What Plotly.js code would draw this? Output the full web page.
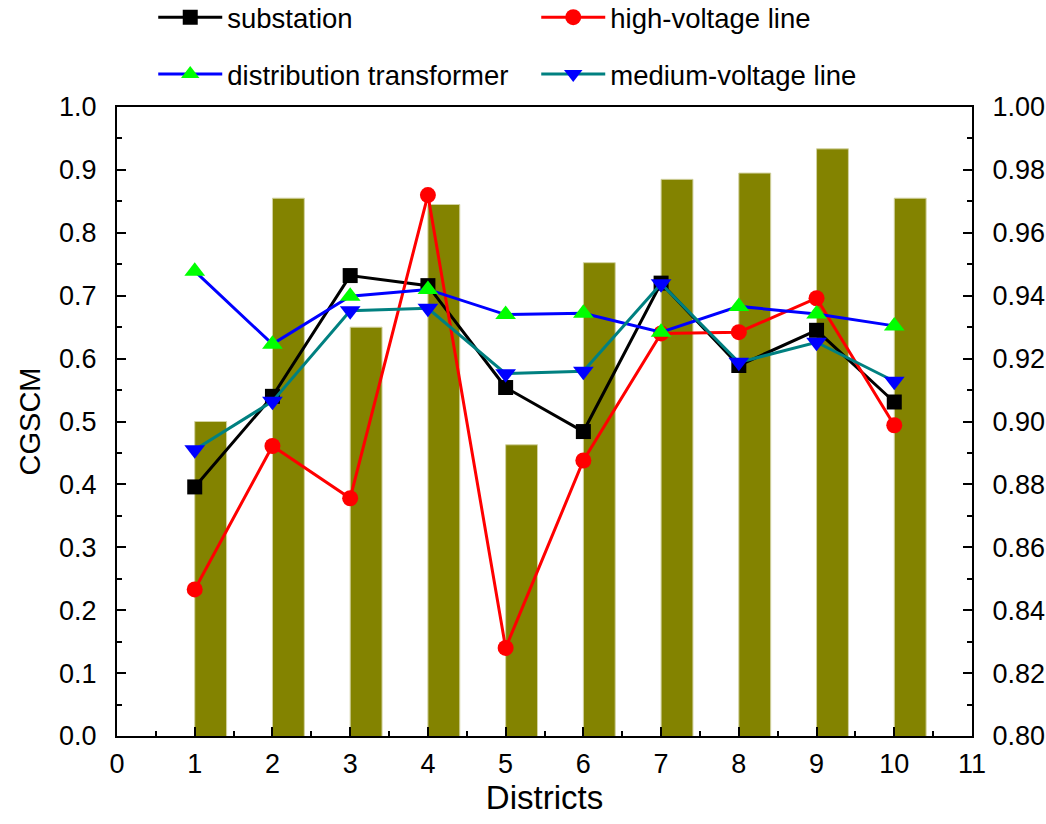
<!DOCTYPE html>
<html>
<head>
<meta charset="utf-8">
<script src="https://cdn.plot.ly/plotly-3.0.1.min.js"></script>
<style>html,body{margin:0;padding:0;background:#fff;}#chart{width:1046px;height:824px;}</style>
</head>
<body>
<div id="chart"></div>
<script>
const districts = [1, 2, 3, 4, 5, 6, 7, 8, 9, 10];
const substation = [0.396, 0.540, 0.732, 0.716, 0.554, 0.484, 0.720, 0.589, 0.645, 0.531];
const highVoltage = [0.233, 0.461, 0.378, 0.860, 0.140, 0.438, 0.640, 0.642, 0.696, 0.494];
const distTransformer = [0.739, 0.623, 0.699, 0.710, 0.670, 0.672, 0.642, 0.683, 0.671, 0.652];
const mediumVoltage = [0.455, 0.532, 0.676, 0.680, 0.576, 0.580, 0.719, 0.594, 0.626, 0.564];
const barValues = [0.900, 0.971, 0.930, 0.969, 0.8926, 0.9505, 0.977, 0.979, 0.9867, 0.971];

const FONT = 'Liberation Sans, Arial, sans-serif';

const traces = [
  {
    type: 'bar', x: districts, y: barValues, yaxis: 'y', xaxis: 'x',
    width: 0.41, offset: 0,
    marker: {color: '#838300', line: {color: '#d2d2a0', width: 1}},
    showlegend: false, hoverinfo: 'x+y'
  },
  {
    type: 'scatter', mode: 'lines+markers', name: 'substation',
    x: districts, y: substation, yaxis: 'y2', legend: 'legend',
    line: {color: '#000000', width: 3},
    marker: {symbol: 'square', size: 15, color: '#000000'}
  },
  {
    type: 'scatter', mode: 'lines+markers', name: 'high-voltage line',
    x: districts, y: highVoltage, yaxis: 'y2', legend: 'legend',
    line: {color: '#ff0000', width: 3},
    marker: {symbol: 'circle', size: 16, color: '#ff0000'}
  },
  {
    type: 'scatter', mode: 'lines+markers', name: 'distribution transformer',
    x: districts, y: distTransformer, yaxis: 'y2', legend: 'legend2',
    line: {color: '#0000ff', width: 3},
    marker: {symbol: 'triangle-up', size: 18, color: '#00ff00'}
  },
  {
    type: 'scatter', mode: 'lines+markers', name: 'medium-voltage line',
    x: districts, y: mediumVoltage, yaxis: 'y2', legend: 'legend2',
    line: {color: '#008080', width: 3},
    marker: {symbol: 'triangle-down', size: 18, color: '#0000ff'}
  }
];

const legendCommon = {
  orientation: 'h', xanchor: 'left', yanchor: 'middle',
  xref: 'container', yref: 'container',
  x: 0.1465, entrywidth: 304, entrywidthmode: 'pixels', itemwidth: 64,
  font: {family: FONT, size: 27.5, color: '#000'},
  bgcolor: 'rgba(0,0,0,0)', borderwidth: 0, traceorder: 'normal'
};

const layout = {
  width: 1046, height: 824,
  margin: {l: 117, r: 74, t: 107, b: 88, pad: 0},
  paper_bgcolor: '#ffffff', plot_bgcolor: '#ffffff',
  font: {family: FONT, size: 26, color: '#000'},
  showlegend: true,
  legend: Object.assign({}, legendCommon, {y: 0.979}),
  legend2: Object.assign({}, legendCommon, {y: 0.910}),
  bargap: 0,
  xaxis: {
    range: [0, 11], tick0: 0, dtick: 1, tickmode: 'linear',
    showgrid: false, zeroline: false,
    showline: true, linecolor: '#000', linewidth: 2, mirror: true,
    ticks: 'inside', ticklen: 9, tickwidth: 2, tickcolor: '#000',
    minor: {dtick: 0.5, ticks: 'inside', ticklen: 5, tickwidth: 2, tickcolor: '#000', showgrid: false},
    tickfont: {family: FONT, size: 27},
    ticklabelstandoff: 3,
    title: {text: 'Districts', font: {family: FONT, size: 33}, standoff: 6}
  },
  yaxis: {
    side: 'right', range: [0.8, 1.0], tick0: 0.8, dtick: 0.02, tickmode: 'linear',
    tickformat: '.2f',
    showgrid: false, zeroline: false,
    showline: true, linecolor: '#000', linewidth: 2,
    ticks: 'inside', ticklen: 9, tickwidth: 2, tickcolor: '#000',
    minor: {dtick: 0.01, ticks: 'inside', ticklen: 5, tickwidth: 2, tickcolor: '#000', showgrid: false},
    tickfont: {family: FONT, size: 27},
    ticklabelstandoff: 13
  },
  yaxis2: {
    side: 'left', overlaying: 'y', range: [0, 1.0], tick0: 0, dtick: 0.1, tickmode: 'linear',
    tickformat: '.1f',
    showgrid: false, zeroline: false,
    showline: true, linecolor: '#000', linewidth: 2,
    ticks: 'inside', ticklen: 9, tickwidth: 2, tickcolor: '#000',
    minor: {dtick: 0.05, ticks: 'inside', ticklen: 5, tickwidth: 2, tickcolor: '#000', showgrid: false},
    tickfont: {family: FONT, size: 27},
    ticklabelstandoff: 13,
    title: {text: 'CGSCM', font: {family: FONT, size: 29}, standoff: 10}
  }
};

Plotly.newPlot('chart', traces, layout, {displayModeBar: false, staticPlot: true});
</script>
</body>
</html>
